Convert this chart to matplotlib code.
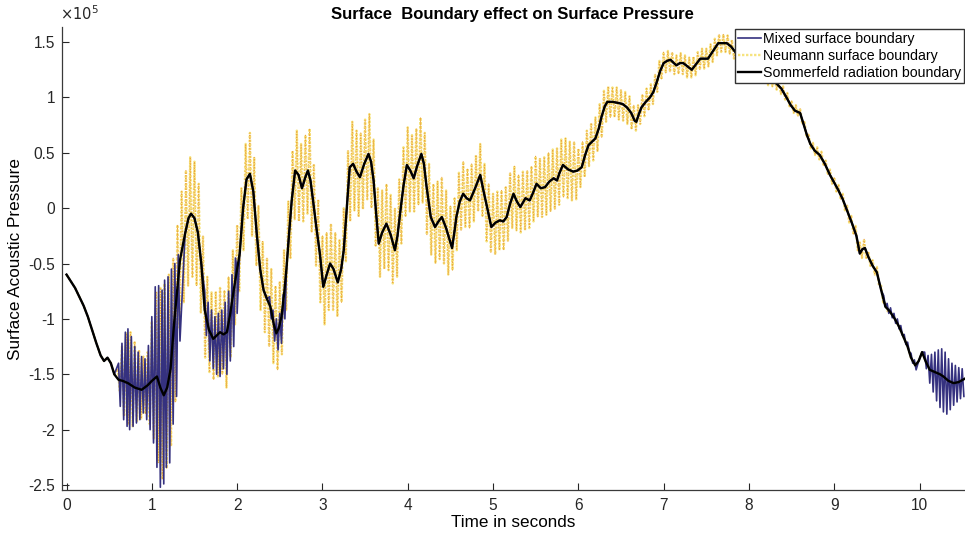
import numpy as np
import matplotlib
matplotlib.use("Agg")
import matplotlib.pyplot as plt
from matplotlib.ticker import FuncFormatter

plt.rcParams["font.family"] = ["Liberation Sans", "DejaVu Sans"]
plt.rcParams["axes.unicode_minus"] = False

# pressures are in units of 1e5 (the axis carries the x10^5 multiplier)

# Sommerfeld radiation boundary: smooth trace
sommerfeld_t = [
    0.00, 0.05, 0.10, 0.15, 0.20, 0.25, 0.30, 0.35, 0.40, 0.44, 0.48, 0.52, 0.56,
    0.61, 0.66, 0.72, 0.80, 0.88, 0.95, 1.00, 1.06, 1.10, 1.14, 1.18, 1.22, 1.26,
    1.29, 1.33, 1.39, 1.43, 1.46, 1.50, 1.54, 1.58, 1.62, 1.67, 1.72, 1.76, 1.80,
    1.84, 1.88, 1.92, 1.96, 2.00, 2.03, 2.07, 2.11, 2.15, 2.19, 2.23, 2.27, 2.31,
    2.35, 2.39, 2.43, 2.46, 2.49, 2.52, 2.55, 2.58, 2.61, 2.64, 2.68, 2.72, 2.76,
    2.80, 2.83, 2.86, 2.89, 2.93, 2.97, 3.01, 3.05, 3.09, 3.13, 3.18, 3.22, 3.25,
    3.29, 3.32, 3.36, 3.40, 3.44, 3.49, 3.54, 3.57, 3.60, 3.63, 3.66, 3.70, 3.75,
    3.80, 3.85, 3.88, 3.91, 3.95, 3.99, 4.03, 4.07, 4.11, 4.16, 4.19, 4.22, 4.27,
    4.32, 4.36, 4.40, 4.45, 4.52, 4.55, 4.57, 4.61, 4.65, 4.69, 4.73, 4.79, 4.85,
    4.89, 4.93, 4.98, 5.03, 5.08, 5.12, 5.16, 5.20, 5.24, 5.28, 5.32, 5.38, 5.43,
    5.47, 5.51, 5.56, 5.61, 5.66, 5.71, 5.75, 5.78, 5.82, 5.88, 5.94, 5.99, 6.04,
    6.08, 6.12, 6.16, 6.20, 6.24, 6.27, 6.31, 6.34, 6.40, 6.47, 6.52, 6.57, 6.62,
    6.66, 6.68, 6.71, 6.74, 6.79, 6.84, 6.88, 6.92, 6.96, 7.00, 7.04, 7.08, 7.12,
    7.15, 7.19, 7.23, 7.28, 7.33, 7.38, 7.43, 7.48, 7.52, 7.58, 7.64, 7.69, 7.74,
    7.79, 7.84, 7.90, 7.96, 8.02, 8.08, 8.14, 8.21, 8.27, 8.33, 8.38, 8.44, 8.49,
    8.54, 8.60, 8.64, 8.68, 8.72, 8.77, 8.83, 8.89, 8.95, 9.00, 9.05, 9.10, 9.15,
    9.21, 9.26, 9.30, 9.33, 9.36, 9.40, 9.45, 9.50, 9.55, 9.60, 9.65, 9.71, 9.76,
    9.81, 9.86, 9.90, 9.95, 9.99, 10.03, 10.07, 10.12, 10.18, 10.24, 10.28, 10.34,
    10.40, 10.46, 10.53,
]
sommerfeld_p = [
    -0.60, -0.66, -0.72, -0.80, -0.88, -0.98, -1.10, -1.22, -1.33, -1.38, -1.35, -1.40, -1.50,
    -1.55, -1.56, -1.58, -1.62, -1.64, -1.60, -1.56, -1.52, -1.62, -1.69, -1.62, -1.45, -1.05,
    -0.80, -0.47, -0.23, -0.09, -0.05, -0.09, -0.22, -0.50, -0.92, -1.10, -1.18, -1.15, -1.12,
    -1.14, -1.12, -0.95, -0.74, -0.55, -0.41, 0.00, 0.26, 0.31, 0.15, -0.23, -0.55, -0.74,
    -0.82, -0.89, -1.05, -1.13, -1.08, -0.98, -0.78, -0.53, -0.22, 0.07, 0.34, 0.30, 0.18,
    0.28, 0.34, 0.25, 0.07, -0.18, -0.41, -0.71, -0.60, -0.50, -0.55, -0.67, -0.55, -0.38,
    0.05, 0.37, 0.40, 0.33, 0.28, 0.40, 0.49, 0.42, 0.25, -0.05, -0.32, -0.22, -0.14,
    -0.24, -0.38, -0.25, -0.05, 0.20, 0.39, 0.34, 0.27, 0.38, 0.49, 0.40, 0.20, -0.08,
    -0.17, -0.12, -0.08, -0.18, -0.36, -0.20, -0.08, 0.06, 0.13, 0.09, 0.07, 0.18, 0.30,
    0.15, 0.01, -0.17, -0.13, -0.11, -0.12, -0.08, 0.04, 0.13, 0.06, 0.01, 0.09, 0.07,
    0.14, 0.22, 0.18, 0.19, 0.24, 0.27, 0.25, 0.32, 0.39, 0.35, 0.33, 0.34, 0.37,
    0.48, 0.57, 0.60, 0.63, 0.72, 0.82, 0.92, 0.96, 0.96, 0.95, 0.94, 0.91, 0.86,
    0.79, 0.78, 0.85, 0.91, 0.96, 1.00, 1.05, 1.14, 1.24, 1.31, 1.33, 1.34, 1.31,
    1.29, 1.31, 1.31, 1.28, 1.25, 1.30, 1.35, 1.35, 1.35, 1.42, 1.49, 1.49, 1.49,
    1.46, 1.41, 1.34, 1.30, 1.27, 1.24, 1.21, 1.19, 1.16, 1.12, 1.08, 1.00, 0.93,
    0.88, 0.86, 0.76, 0.66, 0.58, 0.52, 0.48, 0.40, 0.30, 0.23, 0.16, 0.08, -0.02,
    -0.14, -0.25, -0.41, -0.37, -0.36, -0.44, -0.52, -0.58, -0.74, -0.89, -0.93, -1.00, -1.07,
    -1.16, -1.25, -1.35, -1.42, -1.38, -1.30, -1.38, -1.46, -1.48, -1.50, -1.52, -1.56,
    -1.58, -1.57, -1.54,
]

# Mixed surface boundary: follows Sommerfeld except where it rings;
# each ringing stroke read as (time, top, bottom)
mixed_bar_t = [
    0.61, 0.65, 0.69, 0.72, 0.76, 0.80, 0.84, 0.88, 0.92, 0.96, 1.00, 1.04, 1.08,
    1.12, 1.15, 1.19, 1.23, 1.27, 1.31,
    1.62, 1.66, 1.70, 1.74, 1.78, 1.82, 1.86, 1.90, 1.94, 1.98,
    2.38, 2.42, 2.46, 2.50, 2.54,
    9.58, 9.62, 9.66, 9.70, 9.74, 9.78, 9.82, 9.86, 9.90, 9.94,
    10.06, 10.10, 10.14, 10.18, 10.22, 10.26, 10.30, 10.34, 10.38, 10.42, 10.46, 10.50,
]
mixed_bar_hi = [
    -1.40, -1.22, -1.12, -1.09, -1.16, -1.25, -1.30, -1.34, -1.36, -1.24, -0.98, -0.71, -0.70,
    -0.74, -0.65, -0.62, -0.55, -0.50, -0.42,
    -0.75, -0.85, -0.92, -0.98, -0.95, -0.92, -0.85, -0.75, -0.60, -0.45,
    -0.80, -0.92, -1.00, -0.95, -0.78,
    -0.79, -0.86, -0.90, -0.95, -1.00, -1.06, -1.14, -1.21, -1.31, -1.37,
    -1.30, -1.33, -1.32, -1.30, -1.28, -1.27, -1.30, -1.36, -1.40, -1.42, -1.44, -1.45,
]
mixed_bar_lo = [
    -1.79, -1.91, -1.97, -2.00, -1.97, -1.94, -1.91, -1.85, -1.91, -2.00, -2.12, -2.34, -2.52,
    -2.49, -2.34, -2.30, -1.95, -1.70, -1.20,
    -1.15, -1.38, -1.45, -1.50, -1.52, -1.45, -1.50, -1.38, -1.25, -0.95,
    -1.00, -1.20, -1.28, -1.22, -1.00,
    -0.89, -0.95, -0.99, -1.04, -1.09, -1.15, -1.23, -1.30, -1.40, -1.46,
    -1.45, -1.58, -1.66, -1.74, -1.80, -1.84, -1.86, -1.82, -1.78, -1.75, -1.72, -1.70,
]
mixed_ring_spans = [(0.60, 1.33), (1.61, 1.99), (2.37, 2.55), (9.57, 9.96),
                    (10.05, 10.53)]

# Neumann surface boundary: rings from 0.6 s to 9.6 s, one stroke every 0.05 s
neumann_hi = [
    -1.45, -1.25, -1.13, -1.12, -1.20, -1.28, -1.34, -1.30,
    -1.02, -0.75, -0.72, -0.68, -0.60, -0.45, -0.15, 0.15, 0.34, 0.46,
    0.42, 0.22, -0.25, -0.62, -0.76, -0.75, -0.72, -0.74, -0.62, -0.38,
    -0.15, 0.18, 0.58, 0.68, 0.46, 0.02, -0.30, -0.45, -0.55, -0.70,
    -0.66, -0.38, 0.06, 0.52, 0.70, 0.58, 0.66, 0.72, 0.40, 0.08,
    -0.25, -0.22, -0.14, -0.22, -0.28, 0.00, 0.52, 0.78, 0.70, 0.68,
    0.80, 0.85, 0.62, 0.18, 0.16, 0.22, 0.12, 0.00, 0.26, 0.55,
    0.73, 0.66, 0.72, 0.82, 0.68, 0.40, 0.22, 0.24, 0.28, 0.16,
    0.02, 0.10, 0.32, 0.42, 0.36, 0.40, 0.48, 0.58, 0.40, 0.22,
    0.13, 0.15, 0.16, 0.20, 0.32, 0.38, 0.30, 0.33, 0.34, 0.38,
    0.47, 0.45, 0.46, 0.50, 0.53, 0.54, 0.62, 0.63, 0.60, 0.60,
    0.54, 0.60, 0.70, 0.77, 0.82, 0.94, 1.06, 1.10, 1.09, 1.09,
    1.07, 1.05, 1.01, 0.93, 0.93, 1.03, 1.08, 1.12, 1.21, 1.33,
    1.41, 1.42, 1.41, 1.38, 1.40, 1.38, 1.36, 1.37, 1.41, 1.44,
    1.44, 1.48, 1.53, 1.57, 1.57, 1.56, 1.52, 1.47, 1.41, 1.38,
    1.35, 1.32, 1.30, 1.28, 1.26, 1.23, 1.19, 1.15, 1.10, 1.04,
    0.97, 0.93, 0.90, 0.79, 0.67, 0.59, 0.55, 0.51, 0.43, 0.35,
    0.28, 0.21, 0.13, 0.03, -0.07, -0.16, -0.31, -0.28, -0.39, -0.47,
    -0.53, -0.70, -0.86,
]
neumann_lo = [
    -1.65, -1.88, -1.95, -1.97, -1.93, -1.90, -1.86, -1.95,
    -2.08, -2.30, -2.45, -2.35, -2.15, -1.75, -1.08, -0.85, -0.70, -0.62,
    -0.70, -0.95, -1.35, -1.48, -1.55, -1.52, -1.50, -1.62, -1.35, -1.05,
    -0.75, -0.38, -0.10, -0.25, -0.52, -0.92, -1.12, -1.25, -1.40, -1.46,
    -1.32, -0.92, -0.45, -0.10, -0.12, -0.12, -0.05, -0.22, -0.52, -0.85,
    -1.05, -0.92, -0.92, -0.98, -0.85, -0.48, -0.12, -0.02, -0.08, -0.01,
    0.08, 0.00, -0.35, -0.62, -0.55, -0.56, -0.68, -0.62, -0.32, -0.08,
    -0.03, -0.03, 0.03, 0.05, -0.24, -0.42, -0.50, -0.46, -0.50, -0.60,
    -0.56, -0.38, -0.20, -0.17, -0.18, -0.12, -0.03, -0.08, -0.30, -0.40,
    -0.42, -0.38, -0.38, -0.30, -0.18, -0.20, -0.22, -0.20, -0.18, -0.12,
    -0.08, -0.08, -0.06, -0.03, -0.01, 0.03, 0.10, 0.09, 0.07, 0.08,
    0.19, 0.28, 0.38, 0.43, 0.51, 0.64, 0.78, 0.82, 0.82, 0.80,
    0.79, 0.76, 0.71, 0.70, 0.76, 0.83, 0.88, 0.94, 1.05, 1.16,
    1.22, 1.23, 1.21, 1.21, 1.21, 1.18, 1.18, 1.20, 1.25, 1.26,
    1.28, 1.32, 1.38, 1.41, 1.41, 1.39, 1.35, 1.30, 1.26, 1.23,
    1.20, 1.17, 1.16, 1.14, 1.11, 1.10, 1.07, 1.03, 0.98, 0.92,
    0.86, 0.83, 0.76, 0.64, 0.54, 0.48, 0.44, 0.38, 0.30, 0.22,
    0.15, 0.08, -0.02, -0.13, -0.24, -0.38, -0.45, -0.46, -0.53, -0.60,
    -0.70, -0.86, -0.93,
]
neumann_t = np.round(np.arange(0.60, 9.601, 0.05), 2)
neumann_ring_span = (0.59, 9.63)

x_ticks = list(range(0, 11))
y_ticks = [-2.5, -2, -1.5, -1, -0.5, 0, 0.5, 1, 1.5]

MIXED = "#35317f"
NEU_BASE = "#f6e37e"
NEU_DOT = "#eca63f"


def zigzag(t, hi, lo, half):
    t = np.asarray(t, float)
    xs = np.column_stack([t, t + half]).ravel()
    ys = np.column_stack([hi, lo]).ravel()
    return xs, ys


def merge_with_base(xs, ys, spans):
    bt = np.asarray(sommerfeld_t)
    bp = np.asarray(sommerfeld_p)
    keep = np.ones(len(bt), bool)
    for a, b in spans:
        keep &= ~((bt >= a) & (bt <= b))
    allx = np.concatenate([bt[keep], xs])
    ally = np.concatenate([bp[keep], ys])
    order = np.argsort(allx, kind="stable")
    return allx[order], ally[order]


fig = plt.figure(figsize=(9.65, 5.35), dpi=100)
ax = fig.add_axes([62 / 965, 45 / 535, 903 / 965, 463 / 535])

nx, ny = zigzag(neumann_t, neumann_hi, neumann_lo, 0.025)
nx, ny = merge_with_base(nx, ny, [neumann_ring_span])
mx, my = zigzag(mixed_bar_t, mixed_bar_hi, mixed_bar_lo, 0.02)
mx, my = merge_with_base(mx, my, mixed_ring_spans)

l_neu, = ax.plot(nx, ny, color=NEU_BASE, lw=1.7, ls=(0, (1.0, 0.7)), zorder=2)
ax.plot(nx, ny, color=NEU_DOT, lw=0.6, ls=(0, (1.6, 1.6)), zorder=2.1)
l_mix, = ax.plot(mx, my, color=MIXED, lw=1.2, zorder=3)
l_som, = ax.plot(sommerfeld_t, sommerfeld_p, color="black", lw=1.7, zorder=4)

ax.set_xlim(-0.053, 10.533)
ax.set_ylim(-2.545, 1.636)
ax.set_xticks(x_ticks)
ax.set_yticks(y_ticks)
ax.yaxis.set_major_formatter(FuncFormatter(lambda v, _: f"{v:g}"))
ax.tick_params(direction="in", length=5, width=0.8, colors="#262626",
               labelsize=11.2)
ax.tick_params(axis="y", pad=5)
ax.tick_params(axis="x", pad=6)
for side in ("top", "right"):
    ax.spines[side].set_visible(False)
for side in ("left", "bottom"):
    ax.spines[side].set_color("#3a3a3a")
    ax.spines[side].set_linewidth(0.9)

ax.set_xlabel("Time in seconds", fontsize=12.3, labelpad=1)
ax.set_ylabel("Surface Acoustic Pressure", fontsize=12.3, labelpad=4)
fig.text(60 / 965, 1 - 20 / 535, r"$\times10^{5}$", fontsize=10.5,
         ha="left", va="baseline", color="#262626")
fig.text(512 / 965, 1 - 19 / 535, "Surface  Boundary effect on Surface Pressure",
         fontsize=12, fontweight="bold", ha="center", va="baseline")

leg = ax.legend([l_mix, l_neu, l_som],
                ["Mixed surface boundary", "Neumann surface boundary",
                 "Sommerfeld radiation boundary"],
                loc="upper right", bbox_to_anchor=(964 / 965, 1 - 29 / 535),
                bbox_transform=fig.transFigure, fontsize=10.2,
                handlelength=1.6, handletextpad=0.15, borderpad=0.2,
                labelspacing=0.22, borderaxespad=0, fancybox=False, framealpha=1)
leg.get_frame().set_edgecolor("#333333")
leg.get_frame().set_linewidth(1.0)

fig.savefig("out.png", dpi=100)
